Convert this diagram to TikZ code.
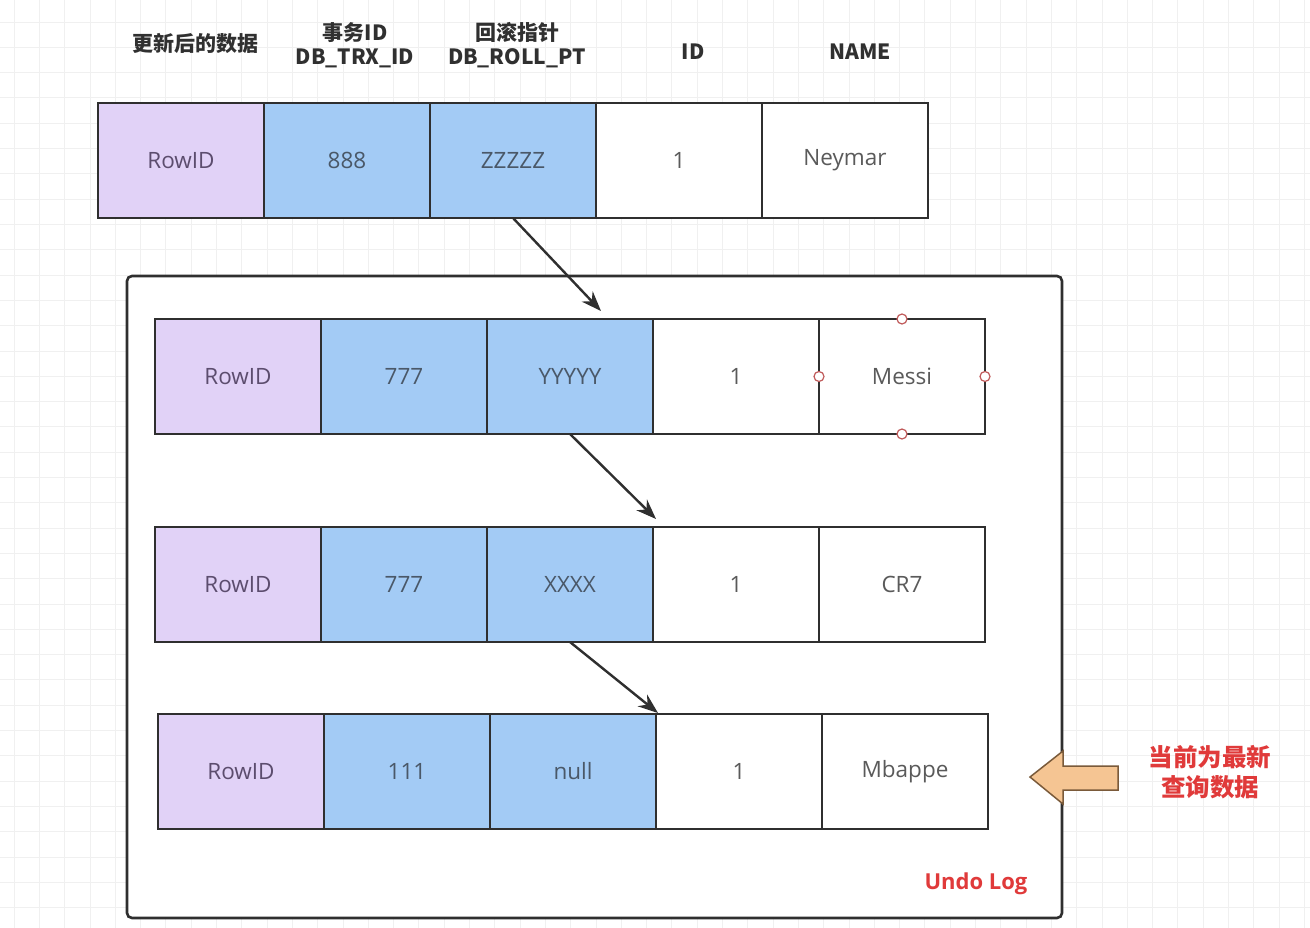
\documentclass[tikz,border=0pt]{standalone}
\usepackage{fontspec}
\setmainfont{Open Sans}
\newfontfamily\cjk{Noto Sans CJK SC}
\usetikzlibrary{arrows.meta}
\definecolor{cellpurple}{HTML}{E1D2F7}
\definecolor{cellblue}{HTML}{A3CBF5}
\definecolor{linedark}{HTML}{2F2F2F}
\definecolor{txtgray}{HTML}{5A5A5A}
\definecolor{ridtxt}{HTML}{5C4D6E}
\definecolor{bluetxt}{HTML}{4A5868}
\definecolor{redtxt}{HTML}{E03A3A}
\definecolor{arrowfill}{HTML}{F5C593}
\definecolor{arrowline}{HTML}{7A5A3A}
\definecolor{gridc}{HTML}{F0F0F0}
\definecolor{handlec}{HTML}{C05A5A}
\definecolor{headtxt}{HTML}{303030}
\newcommand\mkrow[8]{%
  \node[ridcell]   (#1a) at (#2+83,  #3+57.5) {#4};
  \node[bluecell]  (#1b) at (#2+249, #3+57.5) {#5};
  \node[bluecell]  (#1c) at (#2+415, #3+57.5) {#6};
  \node[plaincell] (#1d) at (#2+581, #3+57.5) {#7};
  \node[plaincell] (#1e) at (#2+747, #3+57.5) {#8};
}
\begin{document}
\begin{tikzpicture}[x=1pt,y=-1pt,
  cellbox/.style={draw=linedark, line width=2.6pt, minimum width=166pt, minimum height=115pt,
    inner sep=0pt, outer sep=0pt, font=\fontsize{22.5}{26}\selectfont},
  ridcell/.style={cellbox, fill=cellpurple, text=ridtxt},
  bluecell/.style={cellbox, fill=cellblue, text=bluetxt},
  plaincell/.style={cellbox, fill=white, text=txtgray},
  header/.style={font=\cjk\bfseries\fontsize{21}{24}\selectfont, text=headtxt, align=center, inner sep=0pt},
  redlabel/.style={font=\cjk\bfseries\fontsize{24.5}{30}\selectfont, text=redtxt, align=center, inner sep=0pt},
  conn/.style={draw=linedark, line width=2.4pt, -{Stealth[length=20pt,width=15pt]}},
  handle/.style={draw=handlec, fill=white, line width=1.2pt}]
\useasboundingbox (0,0) rectangle (1310,928);
\fill[white] (0,0) rectangle (1310,928);
% faint background grid
\foreach \gx in {0,...,51} \draw[gridc, line width=0.8pt] (14+\gx*25.3,0) -- (14+\gx*25.3,928);
\foreach \gy in {0,...,36} \draw[gridc, line width=0.8pt] (0,22+\gy*25.3) -- (1310,22+\gy*25.3);
% headers
\node[header] (h1) at (195,44) {更新后的数据};
\node[header] (h2) at (355,45) {事务ID\\DB\_TRX\_ID};
\node[header] (h3) at (517,45) {回滚指针\\DB\_ROLL\_PT};
\node[header] (h4) at (693,52) {ID};
\node[header] (h5) at (860,52) {NAME};
% current row
\mkrow{r1}{98}{103}{RowID}{888}{ZZZZZ}{1}{Neymar}
% undo log container
\node[draw=linedark, line width=2.6pt, rounded corners=5pt, fill=white, minimum width=935pt,
  minimum height=642pt, inner sep=0pt] (undo) at (594.5,597) {};
\node[font=\bfseries\fontsize{22}{26}\selectfont, text=redtxt, inner sep=0pt] (undolbl) at (976,884) {Undo Log};
% undo rows
\mkrow{r2}{155}{319}{RowID}{777}{YYYYY}{1}{Messi}
\mkrow{r3}{155}{527}{RowID}{777}{XXXX}{1}{CR7}
\mkrow{r4}{158}{714}{RowID}{111}{null}{1}{Mbappe}
% selection handles on Messi cell
\foreach \a in {north,south,east,west} \draw[handle] (r2e.\a) circle (5pt);
% roll pointer connectors
\coordinate (e1) at (601,311);
\coordinate (e2) at (656,519);
\coordinate (e3) at (658,713);
\draw[conn] (r1c.south) -- (e1);
\draw[conn] (r2c.south) -- (e2);
\draw[conn] (r3c.south) -- (e3);
% big pointer arrow
\draw[draw=arrowline, fill=arrowfill, line width=1.5pt, line join=miter]
  (1030,777) -- (1063,751) -- (1063,766) -- (1118,766) -- (1118,790) -- (1063,790) -- (1063,804) -- cycle;
\node[redlabel] (cur) at (1210,772) {当前为最新\\查询数据};
\end{tikzpicture}
\end{document}
